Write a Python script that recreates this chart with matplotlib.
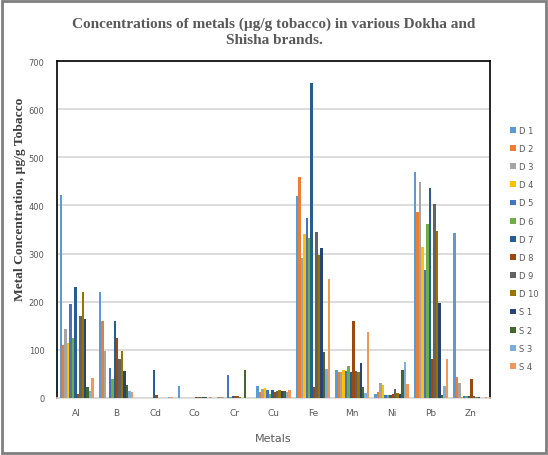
import numpy as np
import matplotlib.pyplot as plt
from matplotlib.patches import Rectangle

metals = ['Al', 'B', 'Cd', 'Co', 'Cr', 'Cu', 'Fe', 'Mn', 'Ni', 'Pb', 'Zn']
brands = ['D 1', 'D 2', 'D 3', 'D 4', 'D 5', 'D 6', 'D 7', 'D 8', 'D 9', 'D 10',
          'S 1', 'S 2', 'S 3', 'S 4']

# values per metal, ordered D1..D10, S1..S4 (ug/g tobacco)
al = [422, 110, 143, 114, 196, 124, 230, 8, 170, 220, 165, 22, 15, 41]
b = [220, 160, 98, 0, 63, 39, 160, 124, 81, 97, 57, 28, 14, 12]
cd = [1, 0.5, 0.5, 0.5, 0.5, 0.5, 58, 6, 1, 1, 1, 1, 2, 2]
co = [25, 1, 1, 1, 1, 1, 1, 2, 2, 2, 3, 2, 1, 2]
cr = [2, 2, 2, 1, 47, 3, 4, 4, 4, 2, 1, 58, 1, 1]
cu = [24, 13, 18, 20, 17, 8, 17, 12, 15, 16, 15, 14, 13, 16]
fe = [420, 460, 291, 340, 373, 333, 654, 22, 344, 298, 311, 95, 61, 248]
mn = [58, 54, 54, 58, 57, 67, 54, 159, 56, 54, 72, 23, 10, 137]
ni = [8, 12, 31, 27, 7, 6, 6, 9, 19, 10, 9, 59, 74, 30]
pb = [469, 386, 449, 314, 266, 362, 437, 81, 404, 346, 197, 6, 24, 80]
zn = [343, 43, 31, 3, 4, 4, 5, 39, 5, 3, 2, 1, 1, 2]

colors = ['#5B9BD5', '#ED7D31', '#A5A5A5', '#FFC000', '#4472C4', '#70AD47',
          '#255E91', '#9E480E', '#636363', '#997300', '#264478', '#43682B',
          '#7CAFDD', '#F1975A']

table = np.array([al, b, cd, co, cr, cu, fe, mn, ni, pb, zn])  # metals x brands

fig = plt.figure(figsize=(5.48, 4.56), dpi=100)
ax = fig.add_axes([57 / 548, 1 - 399 / 456, 433 / 548, 337 / 456])

x = np.arange(len(metals))
group = 0.87
width = group / len(brands)
for i, name in enumerate(brands):
    ax.bar(x - group / 2 + width * (i + 0.5), table[:, i], width,
           color=colors[i], label=name, linewidth=0, zorder=3)

ax.set_xlim(-0.5, len(metals) - 0.5)
ax.set_ylim(0, 700)
ax.set_yticks(range(0, 701, 100))
ax.set_xticks(x)
ax.set_xticklabels(metals)
ax.tick_params(axis='both', length=0, labelsize=6, colors='#595959')
ax.tick_params(axis='y', pad=9)
ax.tick_params(axis='x', pad=7, labelsize=6.5)
ax.yaxis.grid(True, color='#d9d9d9', linewidth=1.3, zorder=0)
ax.set_axisbelow(True)
for side in ['left', 'top', 'right']:
    ax.spines[side].set_color('black')
    ax.spines[side].set_linewidth(1.2)
ax.spines['bottom'].set_color('#d9d9d9')
ax.spines['bottom'].set_linewidth(1.2)

ax.set_xlabel('Metals', fontsize=8, color='#595959', labelpad=12)

fig.text(0.5, 1 - 32 / 456,
         'Concentrations of metals (\u00b5g/g tobacco) in various Dokha and\nShisha brands.',
         ha='center', va='center', fontsize=11, fontweight='bold',
         family='Liberation Serif', color='#595959', linespacing=1.3)
fig.text(20 / 548, 1 - 199 / 456, 'Metal Concentration, \u00b5g/g Tobacco',
         rotation=90, ha='center', va='center', fontsize=9.7, fontweight='bold',
         family='Liberation Serif', color='#404040')

leg = ax.legend(loc='upper left', bbox_to_anchor=(1.03, 0.83), frameon=False,
                fontsize=6, handlelength=0.7, handleheight=0.7, handletextpad=0.3,
                labelspacing=1.1, labelcolor='#595959')

fig.patches.append(Rectangle((0.004, 0.004), 0.992, 0.992, transform=fig.transFigure,
                             fill=False, edgecolor='#7f7f7f', linewidth=2))

plt.savefig('out.png', dpi=100)
plt.close()
